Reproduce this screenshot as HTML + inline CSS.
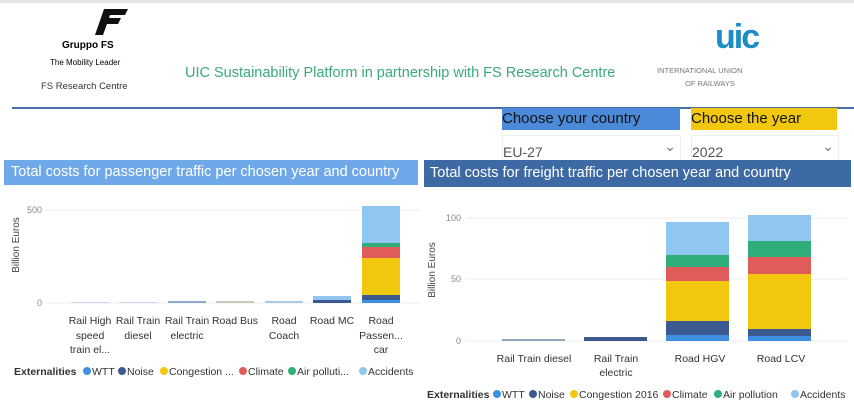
<!DOCTYPE html>
<html><head><meta charset="utf-8"><style>
body{margin:0;width:854px;height:410px;background:#fff;font-family:"Liberation Sans",sans-serif;overflow:hidden;position:relative}
.a{position:absolute;white-space:nowrap}
</style></head><body>
<div class="a" style="left:0;top:0;width:854px;height:3px;background:#e6e6e6"></div>
<svg class="a" style="left:92px;top:7px" width="40" height="30" viewBox="0 0 40 30"><path d="M12 2h24l-3 6H18l-1 3h12l-3 6H15l-4 11H3l9-26z" fill="#111"/></svg>
<div class="a" style="left:62px;top:40px;font-size:10px;font-weight:bold">Gruppo FS</div>
<div class="a" style="left:50px;top:58px;font-size:8px">The Mobility Leader</div>
<div class="a" style="left:41px;top:81px;font-size:9.5px;color:#333">FS Research Centre</div>
<div class="a" style="left:185px;top:65px;font-size:14.5px;color:#3aaa7a">UIC Sustainability Platform in partnership with FS Research Centre</div>
<div class="a" style="left:715px;top:18px;font-size:34px;color:#1a8ec5;font-weight:bold;letter-spacing:-2px">uic</div>
<div class="a" style="left:657px;top:66px;font-size:7.5px;color:#777">INTERNATIONAL UNION</div>
<div class="a" style="left:685px;top:79px;font-size:7.5px;color:#777">OF RAILWAYS</div>
<div class="a" style="left:12px;top:107px;width:842px;height:2px;background:#4a6fa5"></div>
<div class="a" style="left:502px;top:108px;width:178px;height:22px;background:#4a8ad8;font-size:15px;line-height:22px;color:#111">Choose your country</div>
<div class="a" style="left:691px;top:108px;width:146px;height:22px;background:#f2c80f;font-size:15px;line-height:22px;color:#111">Choose the year</div>
<div class="a" style="left:502px;top:135px;width:177px;height:27px;border:1px solid #eee;font-size:14px;line-height:32px;color:#555">EU-27<span style="position:absolute;right:4px;top:-6px;color:#777">&#8964;</span></div>
<div class="a" style="left:691px;top:135px;width:146px;height:27px;border:1px solid #eee;font-size:14px;line-height:32px;color:#555">2022<span style="position:absolute;right:4px;top:-6px;color:#777">&#8964;</span></div>
<div class="a" style="left:4px;top:160px;width:414px;height:25px;background:#6fa8e8;font-size:14.5px;line-height:24px;color:#fff;padding-left:7px;box-sizing:border-box">Total costs for passenger traffic per chosen year and country</div>
<div class="a" style="left:424px;top:160px;width:427px;height:27px;background:#3d6aa5;font-size:14.5px;line-height:27px;color:#fff;padding-left:6px;box-sizing:border-box">Total costs for freight traffic per chosen year and country</div>
<svg class="a" style="left:0;top:0" width="854" height="410" font-family="Liberation Sans, sans-serif">
<g font-size="9" fill="#888" text-anchor="end"><text x="42" y="213">500</text><text x="42" y="306">0</text></g>
<line x1="45" y1="210" x2="420" y2="210" stroke="#eee"/><line x1="45" y1="303" x2="420" y2="303" stroke="#eee"/>
<text transform="translate(19,245) rotate(-90)" font-size="10" fill="#444" text-anchor="middle">Billion Euros</text>
<rect x="71" y="302" width="38" height="1" fill="#c9d7ea"/><rect x="119" y="302" width="38" height="1" fill="#c9d7ea"/>
<rect x="168" y="301" width="38" height="2" fill="#8fa8d0"/><rect x="216" y="301" width="38" height="2" fill="#c8c8b8"/><rect x="265" y="301" width="38" height="2" fill="#a9c9ea"/>
<rect x="313" y="296" width="38" height="4" fill="#90c6f0"/><rect x="313" y="300" width="38" height="3" fill="#3c5a8f"/>
<rect x="362" y="206" width="38" height="37" fill="#90c6f0"/><rect x="362" y="243" width="38" height="4" fill="#2fae7c"/><rect x="362" y="247" width="38" height="11" fill="#e05c5a"/><rect x="362" y="258" width="38" height="37" fill="#f2c80f"/><rect x="362" y="295" width="38" height="5" fill="#3c5a8f"/><rect x="362" y="300" width="38" height="3" fill="#3f8fe0"/>
<g font-size="10.5" fill="#333" text-anchor="middle">
<text x="90" y="324">Rail High</text><text x="90" y="339">speed</text><text x="90" y="353">train el...</text>
<text x="138" y="324">Rail Train</text><text x="138" y="339">diesel</text>
<text x="187" y="324">Rail Train</text><text x="187" y="339">electric</text>
<text x="235" y="324">Road Bus</text>
<text x="284" y="324">Road</text><text x="284" y="339">Coach</text>
<text x="332" y="324">Road MC</text>
<text x="381" y="324">Road</text><text x="381" y="339">Passen...</text><text x="381" y="353">car</text></g>
<g font-size="10.5" fill="#333"><text x="14" y="375" font-weight="bold">Externalities</text>
<circle cx="87" cy="371" r="4" fill="#3f8fe0"/><text x="92" y="375">WTT</text>
<circle cx="122" cy="371" r="4" fill="#3c5a8f"/><text x="127" y="375">Noise</text>
<circle cx="164" cy="371" r="4" fill="#f2c80f"/><text x="169" y="375">Congestion ...</text>
<circle cx="243" cy="371" r="4" fill="#e05c5a"/><text x="248" y="375">Climate</text>
<circle cx="292" cy="371" r="4" fill="#2fae7c"/><text x="297" y="375">Air polluti...</text>
<circle cx="363" cy="371" r="4" fill="#90c6f0"/><text x="368" y="375">Accidents</text></g>
<g font-size="9" fill="#888" text-anchor="end"><text x="461" y="221">100</text><text x="461" y="282">50</text><text x="461" y="344">0</text></g>
<line x1="466" y1="218" x2="847" y2="218" stroke="#eee"/><line x1="466" y1="279" x2="847" y2="279" stroke="#eee"/><line x1="466" y1="341" x2="847" y2="341" stroke="#eee"/>
<text transform="translate(435,270) rotate(-90)" font-size="10" fill="#444" text-anchor="middle">Billion Euros</text>
<rect x="502" y="339" width="63" height="2" fill="#8fa8b8"/>
<rect x="584" y="337" width="63" height="4" fill="#3c5a8f"/>
<rect x="666" y="222" width="63" height="33" fill="#90c6f0"/><rect x="666" y="255" width="63" height="12" fill="#2fae7c"/><rect x="666" y="267" width="63" height="14" fill="#e05c5a"/><rect x="666" y="281" width="63" height="40" fill="#f2c80f"/><rect x="666" y="321" width="63" height="14" fill="#3c5a8f"/><rect x="666" y="335" width="63" height="6" fill="#3f8fe0"/>
<rect x="748" y="215" width="63" height="26" fill="#90c6f0"/><rect x="748" y="241" width="63" height="16" fill="#2fae7c"/><rect x="748" y="257" width="63" height="17" fill="#e05c5a"/><rect x="748" y="274" width="63" height="55" fill="#f2c80f"/><rect x="748" y="329" width="63" height="7" fill="#3c5a8f"/><rect x="748" y="336" width="63" height="5" fill="#3f8fe0"/>
<g font-size="10.5" fill="#333" text-anchor="middle">
<text x="534" y="362">Rail Train diesel</text>
<text x="616" y="362">Rail Train</text><text x="616" y="376">electric</text>
<text x="700" y="362">Road HGV</text><text x="781" y="362">Road LCV</text></g>
<g font-size="10.5" fill="#333"><text x="427" y="398" font-weight="bold">Externalities</text>
<circle cx="497" cy="394" r="4" fill="#3f8fe0"/><text x="502" y="398">WTT</text>
<circle cx="533" cy="394" r="4" fill="#3c5a8f"/><text x="538" y="398">Noise</text>
<circle cx="574" cy="394" r="4" fill="#f2c80f"/><text x="579" y="398">Congestion 2016</text>
<circle cx="667" cy="394" r="4" fill="#e05c5a"/><text x="672" y="398">Climate</text>
<circle cx="718" cy="394" r="4" fill="#2fae7c"/><text x="723" y="398">Air pollution</text>
<circle cx="795" cy="394" r="4" fill="#90c6f0"/><text x="800" y="398">Accidents</text></g>
</svg>
</body></html>
